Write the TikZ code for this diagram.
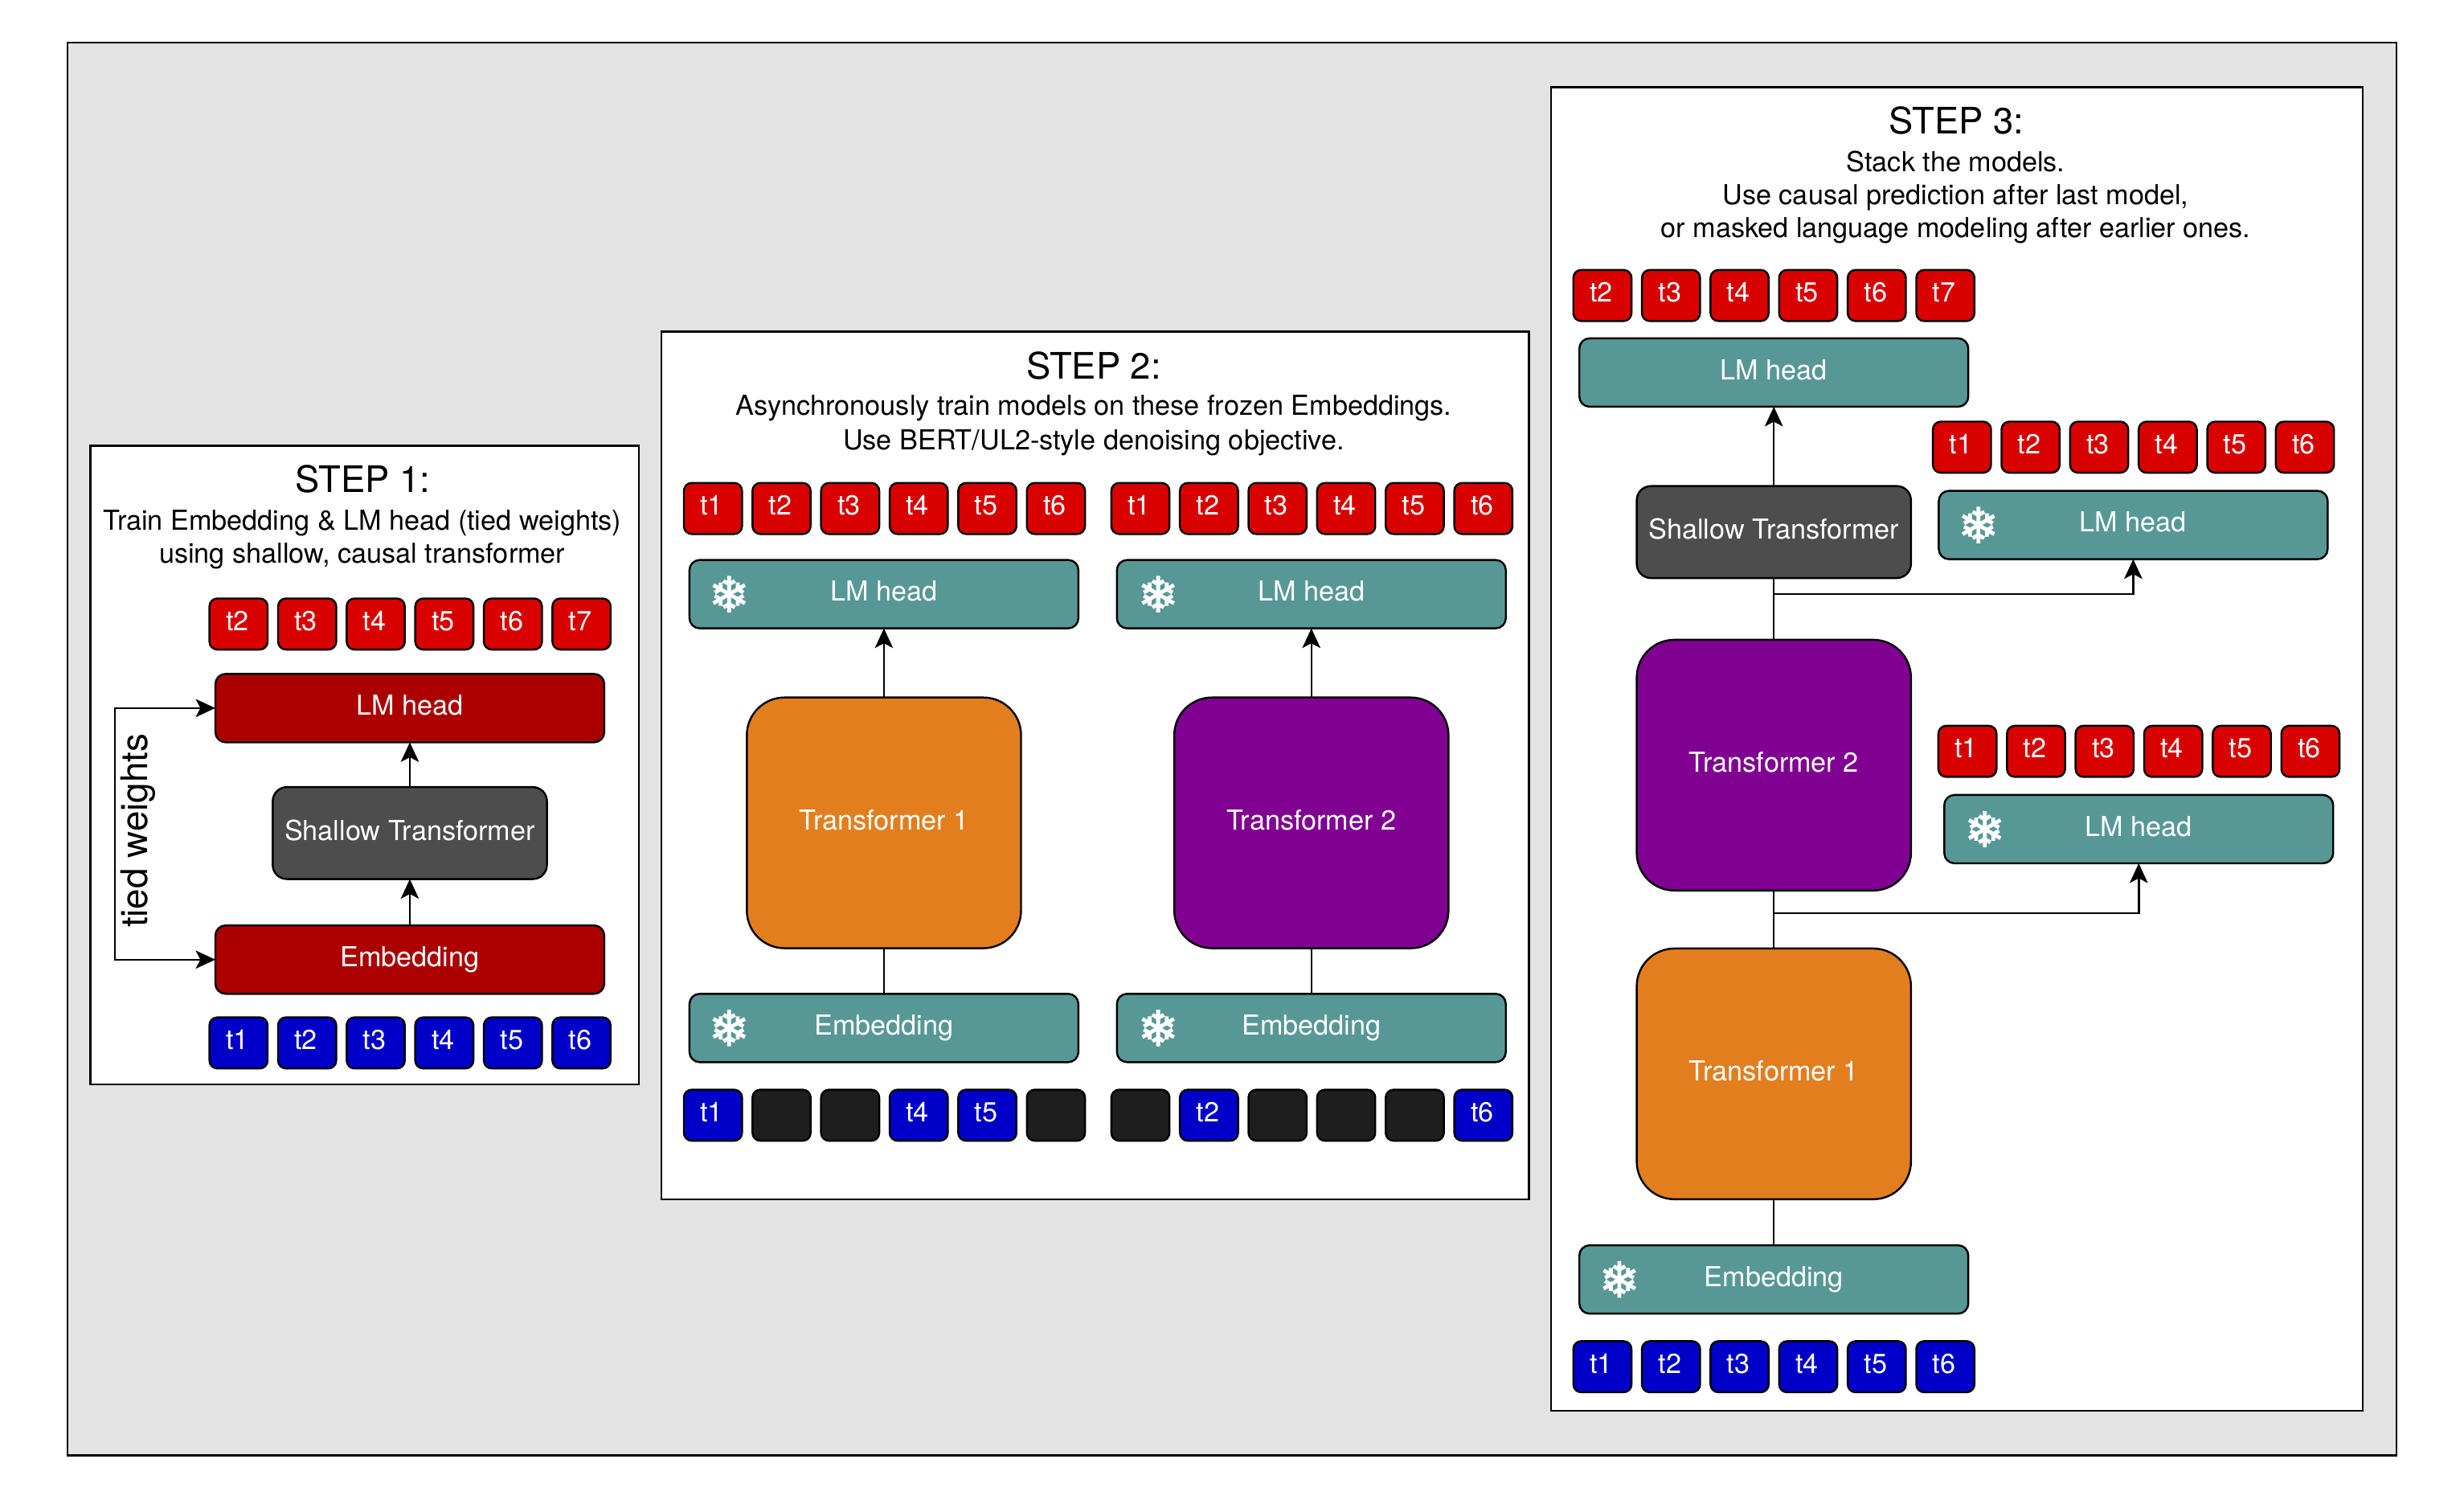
\documentclass[tikz,border=0pt]{standalone}
\usepackage{fontspec}
\setmainfont{TeX Gyre Heros}
\newfontfamily\snowfont[FakeBold=2]{DejaVu Sans}
\usetikzlibrary{arrows.meta}
\definecolor{bggray}{HTML}{E3E3E3}
\definecolor{tokred}{HTML}{D90000}
\definecolor{deepred}{HTML}{AC0000}
\definecolor{tokblue}{HTML}{0000C8}
\definecolor{tealbox}{HTML}{579896}
\definecolor{grayT}{HTML}{4D4D4D}
\definecolor{orangeT}{HTML}{E37E1F}
\definecolor{purpleT}{HTML}{800092}
\definecolor{masktok}{HTML}{1E1E1E}
\tikzset{
  x=1pt,y=-1pt,
  panel/.style={draw=black,line width=1.25pt,fill=white,inner sep=0pt,outer sep=0pt},
  boxbase/.style={draw=black,line width=1.25pt,inner sep=0pt,outer sep=0pt,text=white,
    font=\fontsize{17.5}{20}\selectfont,text height=1.0em,text depth=.1em,align=center},
  tokbase/.style={boxbase,minimum width=37pt,minimum height=32.5pt,rounded corners=5pt,
    text height=.95em,text depth=.1em,execute at end node={\kern1.5pt}},
  redtok/.style={tokbase,fill=tokred},
  bluetok/.style={tokbase,fill=tokblue},
  blacktok/.style={tokbase,fill=masktok},
  widebox/.style={boxbase,minimum width=247.5pt,minimum height=43.5pt,rounded corners=6.5pt},
  redbar/.style={widebox,fill=deepred},
  frozen/.style={widebox,fill=tealbox},
  shallow/.style={boxbase,fill=grayT,minimum width=174.5pt,minimum height=58.5pt,rounded corners=9pt},
  tfbox/.style={boxbase,minimum width=174.5pt,minimum height=159.5pt,rounded corners=24pt},
  tfone/.style={tfbox,fill=orangeT},
  tftwo/.style={tfbox,fill=purpleT},
  snow/.style={text=white,inner sep=0pt,font=\snowfont\fontsize{31}{31}\selectfont},
  title/.style={inner sep=0pt,font=\fontsize{23.2}{26}\selectfont,text=black},
  sub/.style={inner sep=0pt,yshift=-2pt,font=\fontsize{17.5}{20}\selectfont,text=black,text height=.95em,text depth=.09em},
  conn/.style={draw=black,line width=1.25pt},
  arr/.style={conn,-{Stealth[length=12.5pt,width=11.5pt,inset=3pt]}},
  arrboth/.style={conn,{Stealth[length=12.5pt,width=11.5pt,inset=3pt]}-{Stealth[length=12.5pt,width=11.5pt,inset=3pt]}},
}
\begin{document}
\begin{tikzpicture}
\useasboundingbox (0,0) rectangle (1568,954.3);
\node[panel,fill=bggray,anchor=north west,minimum width=1482pt,minimum height=899pt] (outer) at (43,27) {};

%% STEP 1
\node[panel,anchor=north west,minimum width=349pt,minimum height=406.5pt] (p1) at (57.5,283.5) {};
\node[title] (t1a) at (231,305) {STEP 1:};
\node[sub] (t1b) at (230.5,331) {Train Embedding \& LM head (tied weights)};
\node[sub] (t1c) at (230.5,352) {using shallow, causal transformer};
\foreach \i/\l in {0/t2,1/t3,2/t4,3/t5,4/t6,5/t7}
  \node[redtok] (a\i) at ({151.8+43.65*\i},397) {\l};
\foreach \i/\l in {0/t1,1/t2,2/t3,3/t4,4/t5,5/t6}
  \node[bluetok] (b\i) at ({151.8+43.65*\i},663.5) {\l};
\node[redbar] (lm1) at (260.8,450.5) {LM head};
\node[shallow] (sh1) at (260.8,530) {Shallow Transformer};
\node[redbar] (em1) at (260.8,610.5) {Embedding};
\draw[arr] (em1) -- (sh1);
\draw[arr] (sh1) -- (lm1);
\coordinate (tl) at (73,450.5);
\coordinate (bl) at (73,610.5);
\draw[arrboth] (lm1.west) -- (tl) -- (bl) -- (em1.west);
\node[rotate=90,inner sep=0pt,font=\fontsize{23.4}{26}\selectfont] (tw) at (88,528.5) {tied weights};

%% STEP 2
\node[panel,anchor=north west,minimum width=552pt,minimum height=552pt] (p2) at (421,211) {};
\node[title] (t2a) at (696,232.5) {STEP 2:};
\node[sub] (t2b) at (696,258) {Asynchronously train models on these frozen Embeddings.};
\node[sub] (t2c) at (696,280) {Use BERT/UL2-style denoising objective.};
\foreach \i/\l in {0/t1,1/t2,2/t3,3/t4,4/t5,5/t6}{
  \node[redtok] (c\i) at ({453.7+43.65*\i},323.5) {\l};
  \node[redtok] (d\i) at ({725.7+43.65*\i},323.5) {\l};
}
\node[bluetok] (e0) at (453.7,709.5) {t1};
\node[blacktok] (e1) at (497.35,709.5) {};
\node[blacktok] (e2) at (541,709.5) {};
\node[bluetok] (e3) at (584.65,709.5) {t4};
\node[bluetok] (e4) at (628.3,709.5) {t5};
\node[blacktok] (e5) at (671.95,709.5) {};
\node[blacktok] (f0) at (725.7,709.5) {};
\node[bluetok] (f1) at (769.35,709.5) {t2};
\node[blacktok] (f2) at (813,709.5) {};
\node[blacktok] (f3) at (856.65,709.5) {};
\node[blacktok] (f4) at (900.3,709.5) {};
\node[bluetok] (f5) at (943.95,709.5) {t6};
\node[frozen] (lm2a) at (562.5,378) {LM head};
\node[frozen] (lm2b) at (834.5,378) {LM head};
\node[snow] (s2a) at (464,378) {❄};
\node[snow] (s2b) at (737,378) {❄};
\node[tfone] (tf2a) at (562.5,523.5) {Transformer 1};
\node[tftwo] (tf2b) at (834.5,523.5) {Transformer 2};
\node[frozen] (em2a) at (562.5,654) {Embedding};
\node[frozen] (em2b) at (834.5,654) {Embedding};
\node[snow] (s2c) at (464,654) {❄};
\node[snow] (s2d) at (737,654) {❄};
\draw[conn] (em2a) -- (tf2a);
\draw[conn] (em2b) -- (tf2b);
\draw[arr] (tf2a) -- (lm2a);
\draw[arr] (tf2b) -- (lm2b);

%% STEP 3
\node[panel,anchor=north west,minimum width=516.5pt,minimum height=842pt] (p3) at (987,55.5) {};
\node[title] (t3a) at (1245,76.5) {STEP 3:};
\node[sub] (t3b) at (1244.5,103) {Stack the models.};
\node[sub] (t3c) at (1244.5,124) {Use causal prediction after last model,};
\node[sub] (t3d) at (1244.5,145) {or masked language modeling after earlier ones.};
\foreach \i/\l in {0/t2,1/t3,2/t4,3/t5,4/t6,5/t7}
  \node[redtok] (g\i) at ({1019.7+43.65*\i},188) {\l};
\foreach \i/\l in {0/t1,1/t2,2/t3,3/t4,4/t5,5/t6}{
  \node[bluetok] (h\i) at ({1019.7+43.65*\i},869.5) {\l};
  \node[redtok] (j\i) at ({1248.5+43.65*\i},284.5) {\l};
  \node[redtok] (k\i) at ({1252+43.65*\i},478) {\l};
}
\node[frozen] (lm3) at (1128.8,237) {LM head};
\node[shallow] (sh3) at (1128.8,338.5) {Shallow Transformer};
\node[frozen] (lm3b) at (1357.5,334) {LM head};
\node[snow] (s3b) at (1259,334) {❄};
\node[tftwo] (tf3b) at (1128.8,486.8) {Transformer 2};
\node[frozen] (lm3a) at (1361,527.5) {LM head};
\node[snow] (s3a) at (1263,527.5) {❄};
\node[tfone] (tf3a) at (1128.8,683.2) {Transformer 1};
\node[frozen] (em3) at (1128.8,814) {Embedding};
\node[snow] (s3c) at (1030.5,814) {❄};
\draw[conn] (em3) -- (tf3a);
\draw[conn] (tf3a) -- (tf3b);
\draw[conn] (tf3b) -- (sh3);
\draw[arr] (sh3) -- (lm3);
\coordinate (br1) at (1128.8,378);
\coordinate (br1e) at (1357.5,378);
\coordinate (br2) at (1128.8,581);
\coordinate (br2e) at (1361,581);
\draw[arr] (br1) -- (br1e) -- (lm3b.south);
\draw[arr] (br2) -- (br2e) -- (lm3a.south);
\end{tikzpicture}
\end{document}
